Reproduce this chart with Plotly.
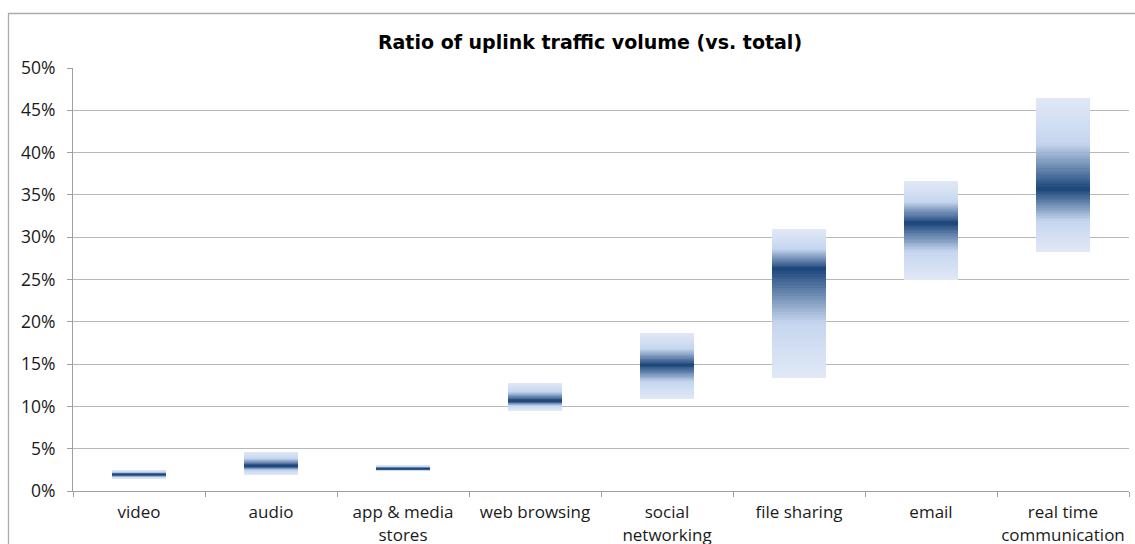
import plotly.graph_objects as go

categories = ["video", "audio", "app & media<br>stores", "web browsing",
              "social<br>networking", "file sharing", "email",
              "real time<br>communication"]
low = [0.0145, 0.019, 0.0235, 0.095, 0.109, 0.134, 0.249, 0.282]
peak = [0.0195, 0.0298, 0.0262, 0.1065, 0.149, 0.263, 0.317, 0.357]
high = [0.0250, 0.0465, 0.0308, 0.128, 0.187, 0.310, 0.366, 0.465]
y_ticks = [0, 0.05, 0.10, 0.15, 0.20, 0.25, 0.30, 0.35, 0.40, 0.45, 0.50]

LIGHT = (224, 232, 246)
MID = (198, 214, 239)
DARK = (31, 73, 125)


def mix(a, b, t):
    return "rgb(%d,%d,%d)" % tuple(round(a[i] + (b[i] - a[i]) * t) for i in range(3))


def shade(t):
    # t: 0 at the end of the bar, 1 at the peak
    if t < 0.5:
        return mix(LIGHT, MID, t / 0.5)
    return mix(MID, DARK, (t - 0.5) / 0.5)


N = 40
BAR_W = 0.41
fig = go.Figure()
for k in range(N):
    t = k / (N - 1)
    base_lo = [l + (p - l) * k / N for l, p in zip(low, peak)]
    h_lo = [p - b for p, b in zip(peak, base_lo)]
    fig.add_trace(go.Bar(x=categories, y=h_lo, base=base_lo, width=BAR_W,
                         marker=dict(color=shade(t), line=dict(width=0)),
                         hoverinfo="skip", showlegend=False))
    top_hi = [h - (h - p) * k / N for h, p in zip(high, peak)]
    h_hi = [tp - p for tp, p in zip(top_hi, peak)]
    fig.add_trace(go.Bar(x=categories, y=h_hi, base=peak, width=BAR_W,
                         marker=dict(color=shade(t), line=dict(width=0)),
                         hoverinfo="skip", showlegend=False))

W, H = 1135, 544
ml, mr, mt, mb = 73, 6, 68, 53
pw = W - ml - mr
ph = H - mt - mb

fig.add_shape(type="rect", xref="paper", yref="paper",
              x0=(8.5 - ml) / pw, x1=(W + 40 - ml) / pw,
              y0=(H - mb - (H + 40)) / ph, y1=(H - mb - 13.5) / ph,
              line=dict(color="#ababab", width=1.3), fillcolor="rgba(0,0,0,0)",
              layer="below")

fig.update_layout(
    width=W, height=H,
    margin=dict(l=ml, r=mr, t=mt, b=mb),
    barmode="overlay",
    bargap=0,
    paper_bgcolor="white",
    plot_bgcolor="white",
    font=dict(family="Open Sans", size=17.5, color="#1a1a1a"),
    title=dict(text="<b>Ratio of uplink traffic volume (vs. total)</b>",
               x=590 / W, xanchor="center", y=1 - 42 / H, yanchor="middle",
               font=dict(family="DejaVu Sans", size=19, color="#000000")),
    xaxis=dict(type="category", categoryorder="array", categoryarray=categories,
               showline=True, linecolor="#a0a0a0", linewidth=1,
               ticks="outside", tickson="boundaries", ticklen=5,
               tickcolor="#a0a0a0", showgrid=False, range=[-0.5, 7.5],
               tickangle=0, automargin=False, fixedrange=True,
               tickfont=dict(size=17), ticklabelstandoff=6),
    yaxis=dict(range=[0, 0.5], tickvals=y_ticks, tickformat=".0%",
               showline=True, linecolor="#a0a0a0", linewidth=1,
               ticks="outside", ticklen=5, tickcolor="#a0a0a0",
               showgrid=True, gridcolor="#b8b8b8", gridwidth=1,
               zeroline=False, automargin=False, fixedrange=True,
               ticklabelstandoff=8),
)

fig.write_html("out.html",
               config={"displayModeBar": False},
               post_script="document.body.style.margin='0';"
                           "document.body.style.overflow='hidden';")
